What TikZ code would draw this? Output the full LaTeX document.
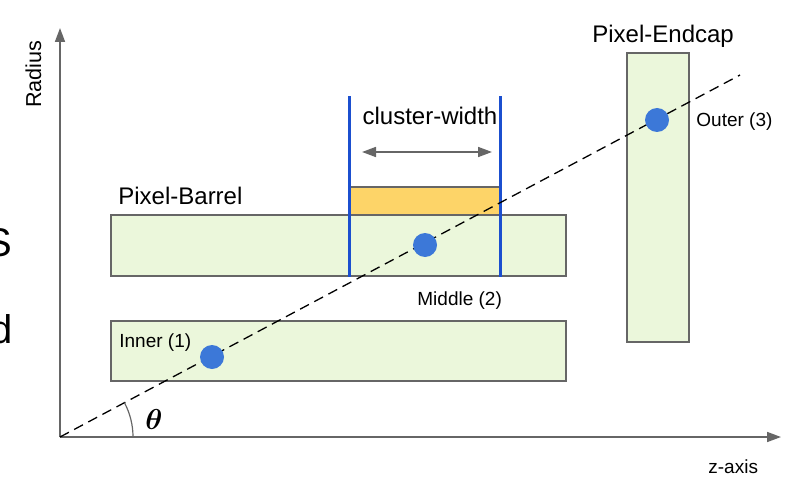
\documentclass[tikz,border=0pt]{standalone}
\usepackage{fontspec}
\usepackage{amsmath}
\setmainfont{Liberation Sans}
\usetikzlibrary{arrows.meta, positioning}

\definecolor{modgreen}{HTML}{EBF7DB}
\definecolor{modorange}{HTML}{FDD468}
\definecolor{stripblue}{HTML}{1B4FCF}
\definecolor{hitblue}{HTML}{3C78D8}
\definecolor{axisgray}{HTML}{666666}

\begin{document}
\begin{tikzpicture}[
x=0.5pt, y=0.5pt,
module/.style = {draw=axisgray, line width=0.8pt, fill=modgreen, inner sep=0pt},
hit/.style = {circle, fill=hitblue, inner sep=0pt, minimum size=12pt},
big label/.style = {font=\fontsize{12}{14}\selectfont, inner sep=0pt},
small label/.style = {font=\fontsize{9.5}{11}\selectfont, inner sep=0pt},
axis/.style = {draw=axisgray, line width=0.8pt, -{Triangle[length=7pt,width=5pt]}},
strip/.style = {draw=stripblue, line width=1.4pt},
track/.style = {draw=black, line width=0.65pt, dash pattern=on 5pt off 3pt},
>=Stealth,
]
\useasboundingbox (0,0) rectangle (785,477);

\coordinate (O) at (60,40);
\coordinate (rtip) at (60,449);
\coordinate (ztip) at (781,40);
\coordinate (trackend) at (740,402);

% letters cut off at the left border
\node (cutS) [anchor=base east, inner sep=0pt, font=\fontsize{20}{24}\selectfont] at (13,221) {S};
\node (cutd) [anchor=base east, inner sep=0pt, font=\fontsize{20}{24}\selectfont] at (13,134) {d};

% detector layers
\node (barrel1) [module, minimum width=227.5pt, minimum height=30pt] at (338.5,126) {};
\node (barrel2) [module, minimum width=227.5pt, minimum height=30.5pt] at (338.5,231.5) {};
\node (endcap) [module, minimum width=31pt, minimum height=144.5pt] at (658,279.5) {};
\node (cluster) [module, fill=modorange, minimum width=75pt, minimum height=14pt] at (425,276) {};

\node (barrellabel) [big label, anchor=base west] at (118,272) {Pixel-Barrel};
\node (endcaplabel) [big label, anchor=base west] at (592,434) {Pixel-Endcap};

% axes
\draw[axis] (O) -- (rtip);
\draw[axis] (O) -- (ztip);
\node (radius) [inner sep=0pt, font=\fontsize{10.8}{13}\selectfont, rotate=90, anchor=base] at (41,403) {Radius};
\node (zaxis) [small label, anchor=base west] at (708,4) {z-axis};

% cluster width
\draw[strip] (cluster.west |- barrel2.south) -- ++(0,181);
\draw[strip] (cluster.east |- barrel2.south) -- ++(0,181);
\coordinate (cwl) at (362,325);
\coordinate (cwr) at (492,325);
\draw[draw=axisgray, line width=0.8pt, {Triangle[length=7pt,width=5pt]}-{Triangle[length=7pt,width=5pt]}] (cwl) -- (cwr);
\node (cwlabel) [big label, anchor=base] at (430,352) {cluster-width};

% track and angle
\draw[track] (O) -- (trackend);
\draw[axisgray, line width=0.6pt] (O) ++(73,0) arc[start angle=0, end angle=28, radius=73];
\node (theta) [inner sep=0pt] at (154,58) {\fontsize{14}{16}\selectfont$\boldsymbol{\theta}$};

% hits
\node (inner) [hit] at (212,120) {};
\node (middle) [hit] at (425,232) {};
\node (outer) [hit] at (657,357) {};
\node (innerlabel) [small label, anchor=base west] at (119,130) {Inner (1)};
\node (middlelabel) [small label, anchor=base west] at (417,172) {Middle (2)};
\node (outerlabel) [small label, anchor=base west] at (696,350) {Outer (3)};

\end{tikzpicture}
\end{document}
